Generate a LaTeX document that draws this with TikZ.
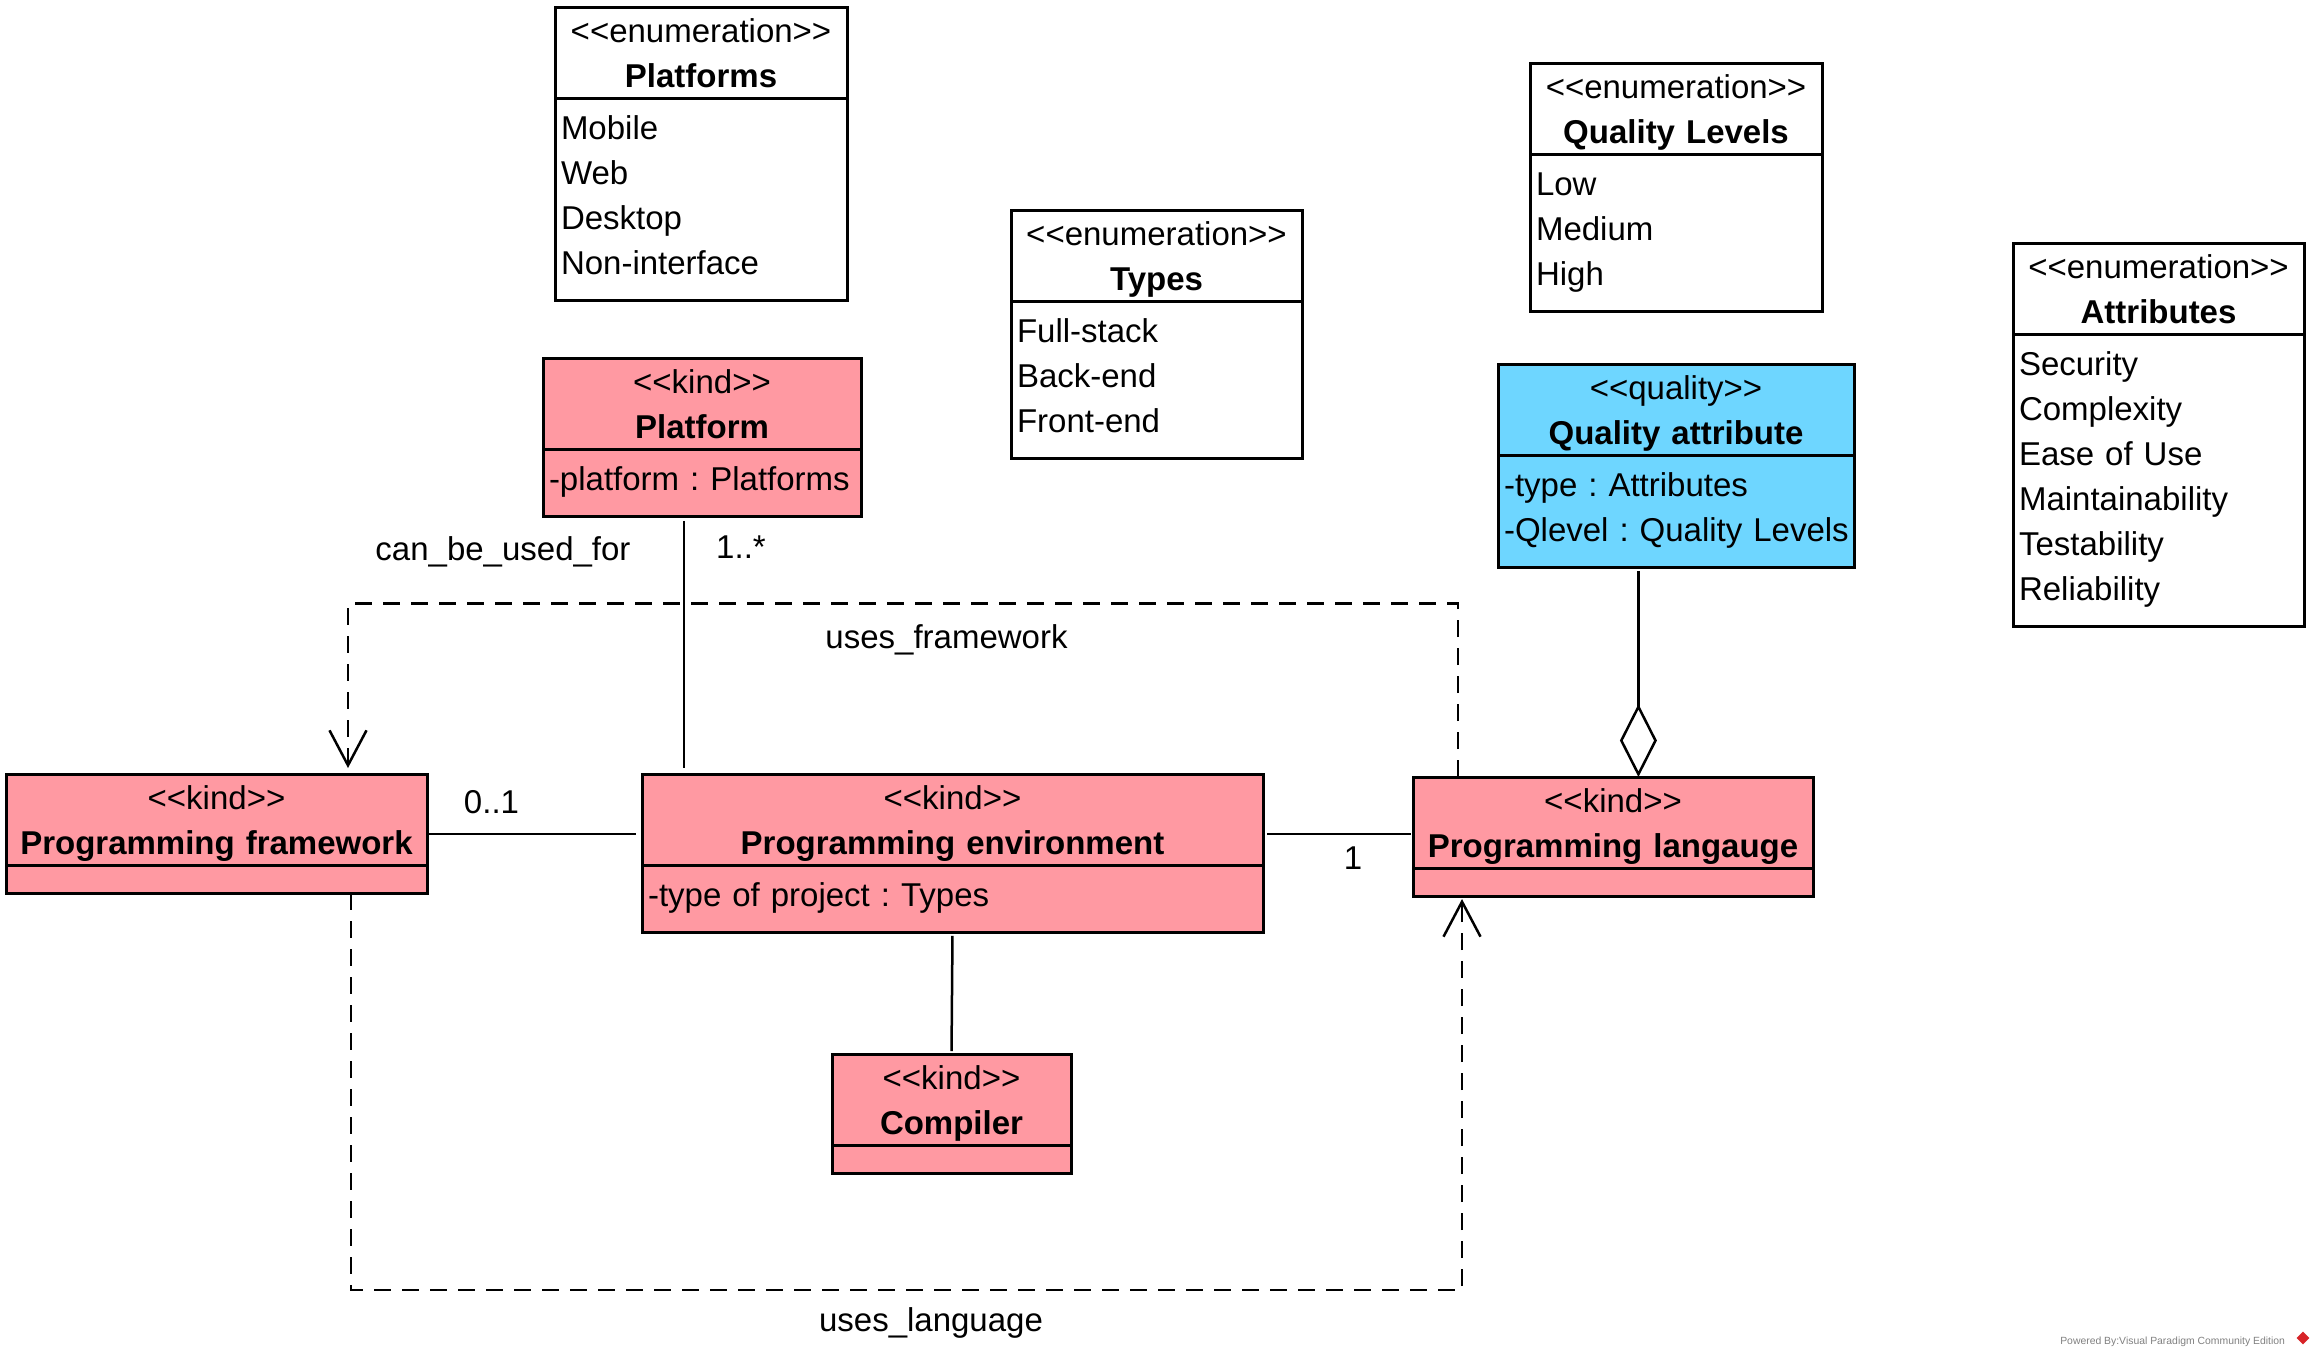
\documentclass[tikz,border=0pt]{standalone}
\usepackage{fontspec}
\setmainfont{Liberation Sans}
\usetikzlibrary{positioning, arrows.meta}
\definecolor{kindpink}{RGB}{255,153,162}
\definecolor{qualityblue}{RGB}{110,214,255}
\definecolor{vpred}{RGB}{215,35,40}
\newcommand{\hs}{\rule[-5pt]{0pt}{22.5pt}}
\newcommand{\rs}{\rule[-7.5pt]{0pt}{22.5pt}}
\newcommand{\stype}[1]{<\kern0pt<#1>\kern0pt>}
\frenchspacing

\begin{document}
\begin{tikzpicture}[x=1pt, y=-1pt, font=\fontsize{16.5}{22.5}\selectfont]
        % Setup the style for the classes
        \tikzset{head style/.style={rectangle, draw, line width=1.5pt,
                                    outer sep=0pt, inner xsep=0pt, inner ysep=0pt,
                                    minimum height=45.5pt, align=center, anchor=north},
                 body style/.style={rectangle, draw, line width=1.5pt,
                                    outer sep=0pt, inner xsep=3pt, inner ysep=5.7pt,
                                    minimum height=14pt, align=left},
                 kind fill/.style={fill=kindpink},
                 quality fill/.style={fill=qualityblue},
                 link style/.style={line width=1.25pt},
                 dep style/.style={line width=1.25pt, dash pattern=on 8.5pt off 5.5pt,
                                   -{Straight Barb[length=17.5pt, width=18.5pt]}}}
        \useasboundingbox (0,0) rectangle (1158,678);

        % Draw the enumerations
        \node[head style, fill=white, text width=146pt] at (350.5,3.5) (platforms) {\hs\stype{enumeration}\\\hs\textbf{Platforms}};
        \node[body style, fill=white, text width=140pt, below=0pt of platforms] (platforms2) {\rs Mobile\\\rs Web\\\rs Desktop\\\rs Non-interface};
        \node[head style, fill=white, text width=145.5pt] at (578.25,105) (types) {\hs\stype{enumeration}\\\hs\textbf{Types}};
        \node[body style, fill=white, text width=139.5pt, below=0pt of types] (types2) {\rs Full-stack\\\rs Back-end\\\rs Front-end};
        \node[head style, fill=white, text width=146pt] at (838,31.5) (levels) {\hs\stype{enumeration}\\\hs\textbf{Quality Levels}};
        \node[body style, fill=white, text width=140pt, below=0pt of levels] (levels2) {\rs Low\\\rs Medium\\\rs High};
        \node[head style, fill=white, text width=145.5pt] at (1079.25,121.5) (attributes) {\hs\stype{enumeration}\\\hs\textbf{Attributes}};
        \node[body style, fill=white, text width=139.5pt, below=0pt of attributes] (attributes2) {\rs Security\\\rs Complexity\\\rs Ease of Use\\\rs Maintainability\\\rs Testability\\\rs Reliability};

        % Draw the kinds
        \node[head style, kind fill, text width=159pt] at (351,179) (platform) {\hs\stype{kind}\\\hs\textbf{Platform}};
        \node[body style, kind fill, text width=153pt, below=0pt of platform] (platform2) {\rs\mbox{-platform : Platforms}};
        \node[head style, quality fill, text width=178pt] at (838,182) (quality) {\hs\stype{quality}\\\hs\textbf{Quality attribute}};
        \node[body style, quality fill, text width=172pt, below=0pt of quality] (quality2) {\rs\mbox{-type : Attributes}\\\rs\mbox{-Qlevel : Quality Levels}};
        \node[head style, kind fill, text width=210.5pt] at (108.25,387) (framework) {\hs\stype{kind}\\\hs\textbf{Programming framework}};
        \node[body style, kind fill, text width=204.5pt, below=0pt of framework] (framework2) {};
        \node[head style, kind fill, text width=310.5pt] at (476.25,387) (environment) {\hs\stype{kind}\\\hs\textbf{Programming environment}};
        \node[body style, kind fill, text width=304.5pt, below=0pt of environment] (environment2) {\rs\mbox{-type of project : Types}};
        \node[head style, kind fill, text width=200pt] at (806.5,388.5) (language) {\hs\stype{kind}\\\hs\textbf{Programming langauge}};
        \node[body style, kind fill, text width=194pt, below=0pt of language] (language2) {};
        \node[head style, kind fill, text width=119.5pt] at (475.75,527) (compiler) {\hs\stype{kind}\\\hs\textbf{Compiler}};
        \node[body style, kind fill, text width=113.5pt, below=0pt of compiler] (compiler2) {};

        % Connect the classes
        \draw[link style, shorten <=2pt, shorten >=3pt]
            ([xshift=-9pt]platform2.south) -- ([xshift=-134.25pt]environment.north);
        \draw[link style, shorten >=3pt]
            ([yshift=-7.25pt]framework.east) -- ([yshift=-7.25pt]environment.west);
        \draw[link style, shorten <=2pt, shorten >=1pt]
            ([yshift=-7.25pt]environment.east) -- ([yshift=-5.75pt]language.west);
        \draw[link style, shorten <=1.5pt, shorten >=1.5pt]
            (environment2.south) -- (compiler.north);
        \draw[link style, shorten <=1.5pt, -{Diamond[length=36.5pt, width=18.5pt, fill=white]}]
            ([xshift=-18.8pt]quality2.south) -- ([xshift=12.7pt]language.north);
        \draw[dep style, shorten >=3pt]
            ([xshift=-77.5pt]language.north) -- ++(0,-86.75) -| ([xshift=65.75pt]framework.north);
        \draw[dep style, shorten >=1.5pt]
            ([xshift=67.25pt]framework2.south) -- ++(0,198.5) -| ([xshift=-75.5pt]language2.south);

        % Labels
        \node[anchor=base] at (251.5,280) (canuse) {can\_be\_used\_for};
        \node[anchor=base] at (370.5,279) (platmult) {1..*};
        \node[anchor=base] at (245.75,406.5) (fwmult) {0..1};
        \node[anchor=base] at (676.5,434.5) (langmult) {1};
        \node[anchor=base] at (473.25,324) (usesfw) {uses\_framework};
        \node[anchor=base] at (465.5,665.5) (useslang) {uses\_language};

        % Footer
        \node[anchor=base east, text=gray, font=\fontsize{5.2}{6}\selectfont] at (1146,672) (vp) {Powered By:Visual Paradigm Community Edition};
        \node[fill=vpred, rotate=45, minimum size=4.5pt, inner sep=0pt] at (1151.5,669) (vplogo) {};
\end{tikzpicture}
\end{document}
